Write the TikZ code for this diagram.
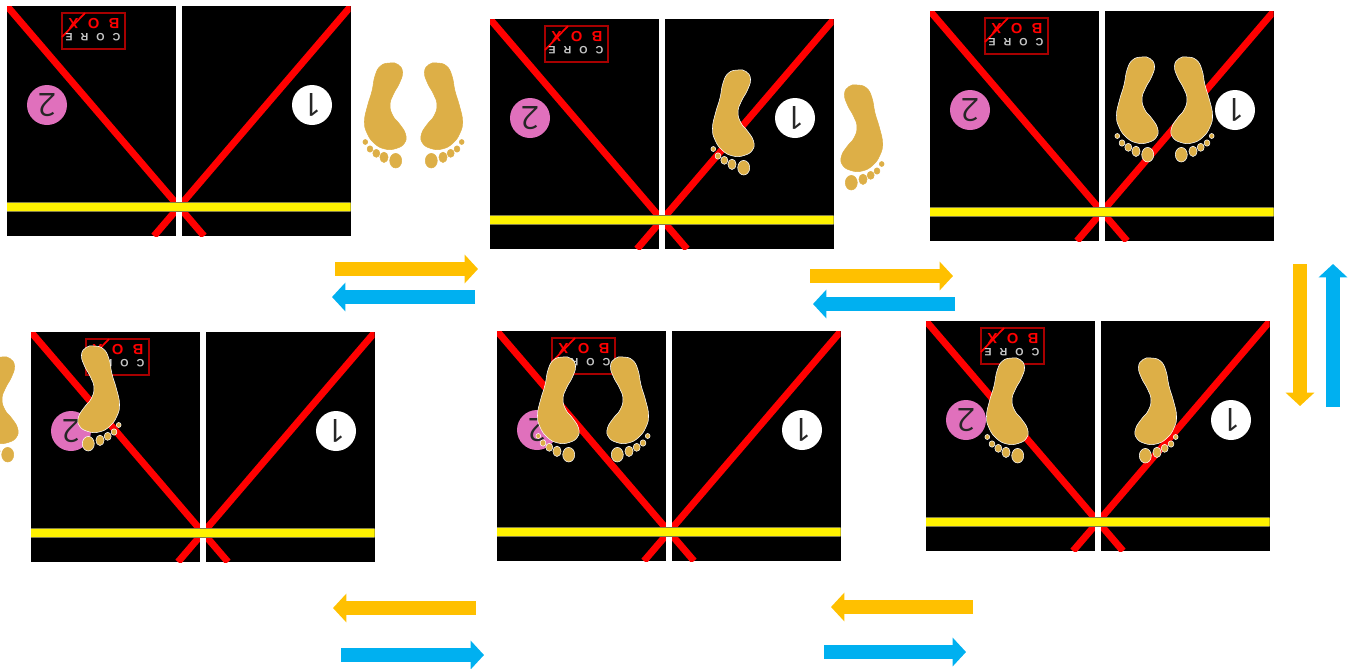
\documentclass[tikz,border=0pt]{standalone}
\usepackage{fontspec}
\setmainfont{Liberation Sans}
\newfontfamily\numfont{Open Sans}
\usetikzlibrary{arrows.meta}
\definecolor{footc}{HTML}{DDAF47}
\definecolor{orangec}{HTML}{FFC000}
\definecolor{bluec}{HTML}{00B0F0}
\definecolor{pinkc}{HTML}{E070BC}
\definecolor{boxred}{HTML}{A80000}
\tikzset{
  panelbox/.style={fill=black,draw=none,anchor=north west,inner sep=0pt,minimum width=257.5pt,minimum height=172.5pt},
  redline/.style={draw=red,line width=5.2pt},
  whiteline/.style={draw=white,line width=4.8pt},
  yellowline/.style={draw=yellow,line width=5.4pt},
  yellowedge/.style={draw=yellow!45!black,line width=6.8pt},
  numcircle/.style={circle,inner sep=0pt,minimum size=30pt,font=\numfont\fontsize{24}{24}\selectfont,text=black!85,rotate=180},
  boxframe/.style={draw=boxred,line width=1.1pt},
  boxword/.style={inner sep=0pt,rotate=180,font=\bfseries\fontsize{11}{11}\selectfont},
  coreword/.style={inner sep=0pt,rotate=180,font=\bfseries\fontsize{8}{8}\selectfont},
  footshape/.style={fill=footc,draw=#1,line width=.4pt},
  orangearrow/.style={draw=orangec,line width=10.2pt,-{Triangle[length=10pt,width=21pt]}},
  bluearrow/.style={draw=bluec,line width=10.2pt,-{Triangle[length=10pt,width=21pt]}}
}
% panel: name, x, y
\newcommand{\floorpanel}[3]{%
  \node[panelbox] (#1) at (#2,#3) {};
  \begin{scope}[shift={(#2,#3)}]
    \begin{scope}
      \clip (0,0) rectangle (343.5,230);
      \draw[redline] (0,0) -- (197,230);
      \draw[redline] (344,0) -- (147,230);
      \draw[whiteline] (172,0) -- (172,230);
      \draw[yellowedge] (0,201) -- (344,201);
      \draw[yellowline] (0,201) -- (344,201);
    \end{scope}
    \node[numcircle,fill=pinkc] (#1two) at (40,99) {2};
    \node[numcircle,fill=white] (#1one) at (305,99) {1};
    \draw[boxframe] (55,7) rectangle (118,43);
    \draw[red,line width=1.3pt] (78,7) -- (55,31);
    \node[boxword,text=red] (#1box) at (87,18) {\addfontfeature{LetterSpace=65}BOX};
    \node[coreword,text=black!22] (#1core) at (86,31) {\addfontfeature{LetterSpace=75}CORE};
  \end{scope}}
% foot: x, y, xscale, outline
\newcommand{\onefoot}[4]{%
  \begin{scope}[shift={(#1,#2)},xscale=#3]
    \path[footshape=#4] plot[smooth cycle,tension=.8] coordinates {(0,0) (8,1.5) (12.5,9) (9.5,20) (3.5,31) (0,42) (3,53) (9.5,61) (15.5,71) (14.5,80) (6,85.5) (-5,86) (-15.5,80.5) (-23,70) (-25.5,58) (-22.5,43) (-18,28) (-15,13) (-9.5,3)};
    \path[footshape=#4] (5.7,97.7) ellipse [x radius=6,y radius=7.3];
    \path[footshape=#4] (-6,94.3) ellipse [x radius=4.1,y radius=5.2];
    \path[footshape=#4] (-13.7,90.3) ellipse [x radius=3.5,y radius=4];
    \path[footshape=#4] (-20,86) ellipse [x radius=2.9,y radius=3.2];
    \path[footshape=#4] (-24.7,79) ellipse [x radius=2.4,y radius=2.5];
  \end{scope}}
\begin{document}
\begin{tikzpicture}[x=.75pt,y=-.75pt]
  \useasboundingbox (0,0) rectangle (1350,668);
  \clip (0,0) rectangle (1350,668);
  \floorpanel{pa}{7}{6}
  \floorpanel{pb}{490}{19}
  \floorpanel{pc}{930}{11}
  \floorpanel{pd}{926}{321}
  \floorpanel{pe}{497}{331}
  \floorpanel{pf}{31}{332}
  % feet
  \onefoot{390}{63}{1}{footc}
  \onefoot{437}{63}{-1}{footc}
  \onefoot{738}{70}{1}{white}
  \onefoot{857}{85}{-1}{footc}
  \onefoot{1142}{57}{1}{white}
  \onefoot{1187}{57}{-1}{white}
  \onefoot{1012}{358}{1}{white}
  \onefoot{1151}{358}{-1}{white}
  \onefoot{563}{357}{1}{white}
  \onefoot{623}{357}{-1}{white}
  \onefoot{94}{346}{-1}{white}
  \onefoot{2}{357}{1}{footc}
  % arrows
  \coordinate (o1s) at (335,269); \coordinate (o1e) at (478,269);
  \coordinate (b1s) at (475,297); \coordinate (b1e) at (332,297);
  \coordinate (o2s) at (810,276); \coordinate (o2e) at (953,276);
  \coordinate (b2s) at (955,304); \coordinate (b2e) at (813,304);
  \coordinate (o3s) at (1300,264); \coordinate (o3e) at (1300,406);
  \coordinate (b3s) at (1333,407); \coordinate (b3e) at (1333,264);
  \coordinate (o4s) at (476,608); \coordinate (o4e) at (333,608);
  \coordinate (b4s) at (341,655); \coordinate (b4e) at (484,655);
  \coordinate (o5s) at (973,607); \coordinate (o5e) at (831,607);
  \coordinate (b5s) at (824,652); \coordinate (b5e) at (966,652);
  \draw[orangearrow] (o1s) -- (o1e);
  \draw[bluearrow] (b1s) -- (b1e);
  \draw[orangearrow] (o2s) -- (o2e);
  \draw[bluearrow] (b2s) -- (b2e);
  \draw[orangearrow] (o3s) -- (o3e);
  \draw[bluearrow] (b3s) -- (b3e);
  \draw[orangearrow] (o4s) -- (o4e);
  \draw[bluearrow] (b4s) -- (b4e);
  \draw[orangearrow] (o5s) -- (o5e);
  \draw[bluearrow] (b5s) -- (b5e);
\end{tikzpicture}
\end{document}
